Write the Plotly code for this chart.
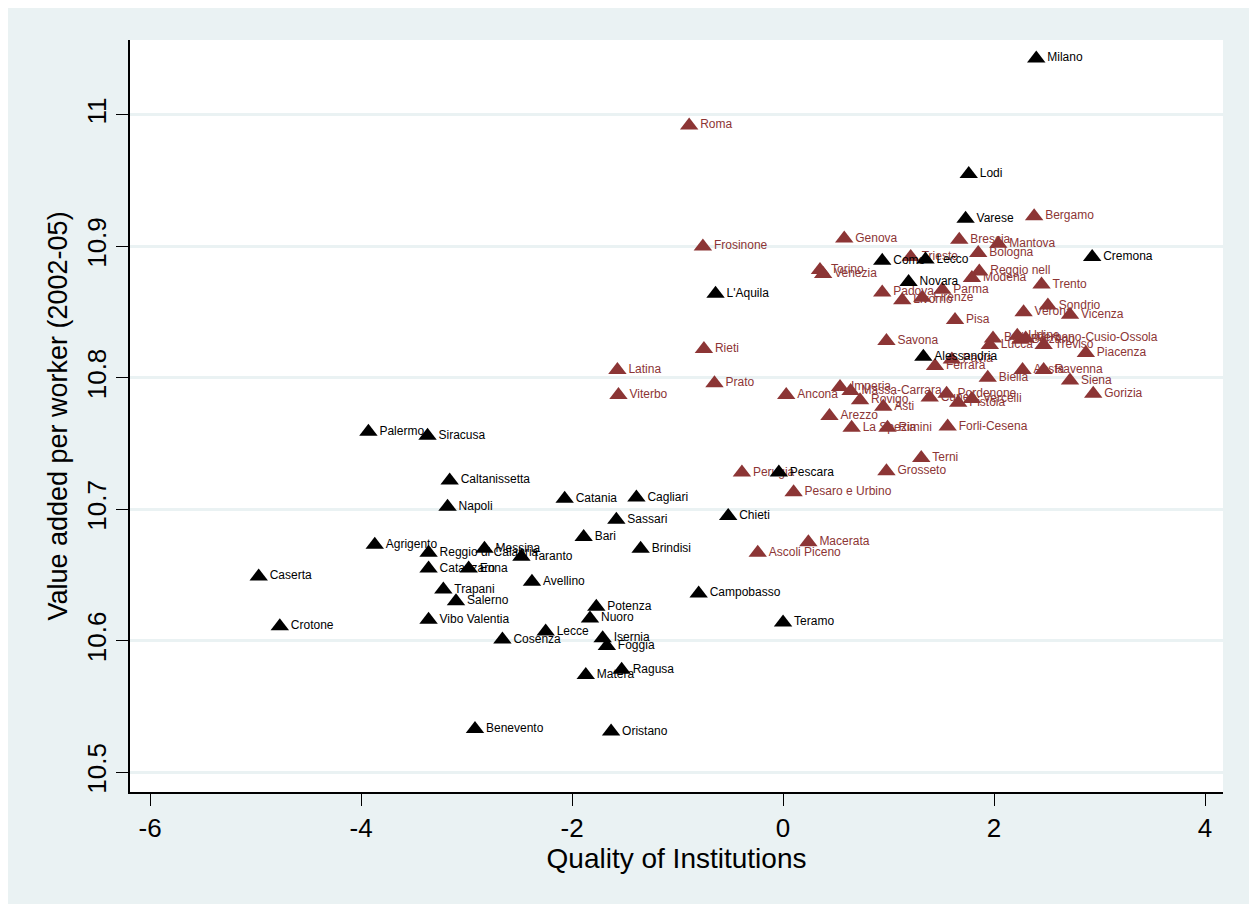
import plotly.graph_objects as go

# Group shown with black markers
black_names = ["Milano", "Lodi", "Varese", "Cremona", "Como", "Lecco", "Novara", "L'Aquila",
               "Alessandria", "Palermo", "Siracusa", "Caltanissetta", "Napoli", "Catania",
               "Cagliari", "Sassari", "Chieti", "Pescara", "Bari", "Brindisi", "Agrigento",
               "Reggio di Calabria", "Messina", "Taranto", "Catanzaro", "Enna", "Avellino",
               "Trapani", "Salerno", "Caserta", "Crotone", "Vibo Valentia", "Campobasso",
               "Teramo", "Potenza", "Nuoro", "Lecce", "Cosenza", "Isernia", "Foggia",
               "Ragusa", "Matera", "Benevento", "Oristano"]
black_x = [2.40, 1.76, 1.73, 2.93, 0.94, 1.35, 1.19, -0.64,
           1.33, -3.93, -3.37, -3.16, -3.18, -2.07,
           -1.39, -1.58, -0.52, -0.04, -1.89, -1.35, -3.87,
           -3.36, -2.83, -2.48, -3.36, -2.98, -2.38,
           -3.22, -3.10, -4.97, -4.77, -3.36, -0.80,
           0.00, -1.77, -1.83, -2.25, -2.66, -1.71, -1.67,
           -1.53, -1.87, -2.92, -1.63]
black_y = [11.043, 10.955, 10.921, 10.892, 10.889, 10.890, 10.873, 10.864,
           10.816, 10.759, 10.756, 10.722, 10.702, 10.708,
           10.709, 10.692, 10.695, 10.728, 10.679, 10.670, 10.673,
           10.667, 10.670, 10.664, 10.655, 10.655, 10.645,
           10.639, 10.630, 10.649, 10.611, 10.616, 10.636,
           10.614, 10.626, 10.617, 10.607, 10.601, 10.602, 10.596,
           10.578, 10.574, 10.533, 10.531]

# Group shown with maroon markers
red_names = ["Roma", "Frosinone", "Genova", "Torino", "Venezia", "Trieste", "Brescia",
             "Bologna", "Mantova", "Bergamo", "Reggio nell", "Modena", "Parma", "Padova",
             "Firenze", "Livorno", "Trento", "Sondrio", "Verona", "Vicenza", "Pisa",
             "Savona", "Belluno", "Lucca", "Udine", "Bolzano", "Verbano-Cusio-Ossola",
             "Treviso", "Piacenza", "Pavia", "Ferrara", "Biella", "Aosta", "Ravenna",
             "Siena", "Gorizia", "Ancona", "Imperia", "Massa-Carrara", "Rovigo", "Asti",
             "Cuneo", "Pordenone", "Pistoia", "Vercelli", "Arezzo", "La Spezia", "Rimini",
             "Forli-Cesena", "Terni", "Grosseto", "Perugia", "Pesaro e Urbino", "Macerata",
             "Ascoli Piceno", "Latina", "Viterbo", "Prato", "Rieti"]
red_x = [-0.89, -0.76, 0.58, 0.35, 0.38, 1.21, 1.67,
         1.85, 2.04, 2.38, 1.86, 1.79, 1.51, 0.94,
         1.32, 1.13, 2.45, 2.51, 2.28, 2.72, 1.63,
         0.98, 1.99, 1.96, 2.22, 2.25, 2.30,
         2.47, 2.87, 1.60, 1.44, 1.94, 2.27, 2.47,
         2.72, 2.94, 0.03, 0.54, 0.64, 0.73, 0.95,
         1.39, 1.55, 1.66, 1.79, 0.44, 0.65, 0.99,
         1.56, 1.31, 0.98, -0.39, 0.10, 0.24,
         -0.24, -1.57, -1.56, -0.65, -0.75]
red_y = [10.992, 10.900, 10.906, 10.882, 10.879, 10.892, 10.905,
         10.895, 10.902, 10.923, 10.881, 10.876, 10.867, 10.865,
         10.861, 10.859, 10.871, 10.855, 10.850, 10.848, 10.844,
         10.828, 10.830, 10.825, 10.832, 10.829, 10.830,
         10.825, 10.819, 10.814, 10.809, 10.800, 10.806, 10.806,
         10.798, 10.788, 10.787, 10.793, 10.790, 10.783, 10.778,
         10.785, 10.788, 10.781, 10.784, 10.771, 10.762, 10.762,
         10.763, 10.739, 10.729, 10.728, 10.713, 10.675,
         10.667, 10.806, 10.787, 10.796, 10.822]

x_ticks = [-6, -4, -2, 0, 2, 4]
x_tick_text = ["-6", "-4", "-2", "0", "2", "4"]
y_ticks = [10.5, 10.6, 10.7, 10.8, 10.9, 11]
y_tick_text = ["10.5", "10.6", "10.7", "10.8", "10.9", "11"]

BLACK = "#000000"
MAROON = "#8c3535"
BG = "#eaf2f3"
FONT = "Liberation Sans, Arial, sans-serif"

fig = go.Figure()
fig.add_trace(go.Scatter(
    x=red_x, y=red_y, text=red_names, mode="markers+text",
    textposition="middle right",
    marker=dict(symbol="triangle-up", size=16, color=MAROON),
    textfont=dict(family=FONT, size=12, color=MAROON),
    cliponaxis=False, showlegend=False))
fig.add_trace(go.Scatter(
    x=black_x, y=black_y, text=black_names, mode="markers+text",
    textposition="middle right",
    marker=dict(symbol="triangle-up", size=16, color=BLACK),
    textfont=dict(family=FONT, size=12, color=BLACK),
    cliponaxis=False, showlegend=False))

fig.update_layout(
    width=1242, height=896,
    paper_bgcolor=BG, plot_bgcolor="white",
    margin=dict(l=122, r=27, t=32, b=112),
    font=dict(family=FONT, color="black"),
    xaxis=dict(range=[-6.19, 4.17], tickvals=x_ticks, ticktext=x_tick_text,
               ticks="outside", ticklen=12,
               tickwidth=1.2, tickcolor="black", showline=True, linecolor="black",
               linewidth=1.5, showgrid=False, zeroline=False,
               tickfont=dict(size=26, family=FONT),
               title=dict(text="Quality of Institutions", font=dict(size=28, family=FONT),
                          standoff=4)),
    yaxis=dict(range=[10.485, 11.057], tickvals=y_ticks, ticktext=y_tick_text,
               ticks="outside", ticklen=12, tickwidth=1.2, tickcolor="black",
               showline=True, linecolor="black", linewidth=1.5,
               showgrid=True, gridcolor=BG, gridwidth=2.5, zeroline=False,
               tickangle=-90, tickfont=dict(size=26, family=FONT),
               title=dict(text="Value added per worker (2002-05)",
                          font=dict(size=27, family=FONT), standoff=6)),
)

fig.write_html("out.html")
